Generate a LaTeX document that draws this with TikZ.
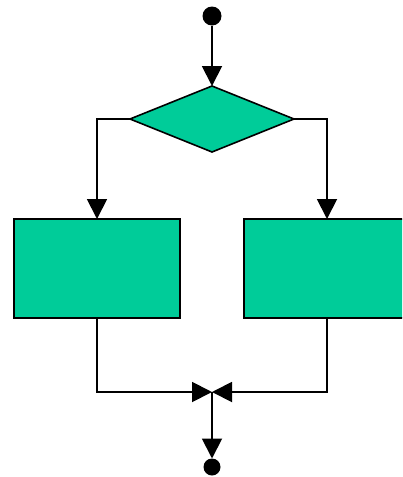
\documentclass[tikz,border=0pt]{standalone}
\usetikzlibrary{arrows.meta,shapes.geometric}
\definecolor{boxgreen}{RGB}{0,204,153}
\begin{document}
\begin{tikzpicture}[x=1pt,y=-1pt,
  flow/.style={line width=1.9pt, -{Triangle[length=20pt,width=20pt]}},
  block/.style={draw=black, line width=1.6pt, fill=boxgreen, inner sep=0pt, outer sep=0pt},
  dot/.style={circle, fill=black, inner sep=0pt, outer sep=0pt}]
\clip (0,0) rectangle (402,477);
% start and end markers
\node[dot, minimum size=19pt] (start) at (212,16) {};
\node[dot, minimum size=17pt] (stop) at (212,467) {};
% decision and the two branches
\node[diamond, block, minimum width=164pt, minimum height=66pt] (dec) at (212,119) {};
\node[block, minimum width=166pt, minimum height=99pt] (left) at (97,268.5) {};
\node[block, minimum width=166pt, minimum height=99pt] (right) at (327,268.5) {};
\coordinate (merge) at (212,392);
% connectors
\draw[flow] (start) -- (dec.north);
\draw[flow] (dec.west) -| (left.north);
\draw[flow] (dec.east) -| (right.north);
\draw[flow] (left.south) |- (merge);
\draw[flow] (right.south) |- (merge);
\draw[flow] (merge) -- (stop.north);
\end{tikzpicture}
\end{document}
